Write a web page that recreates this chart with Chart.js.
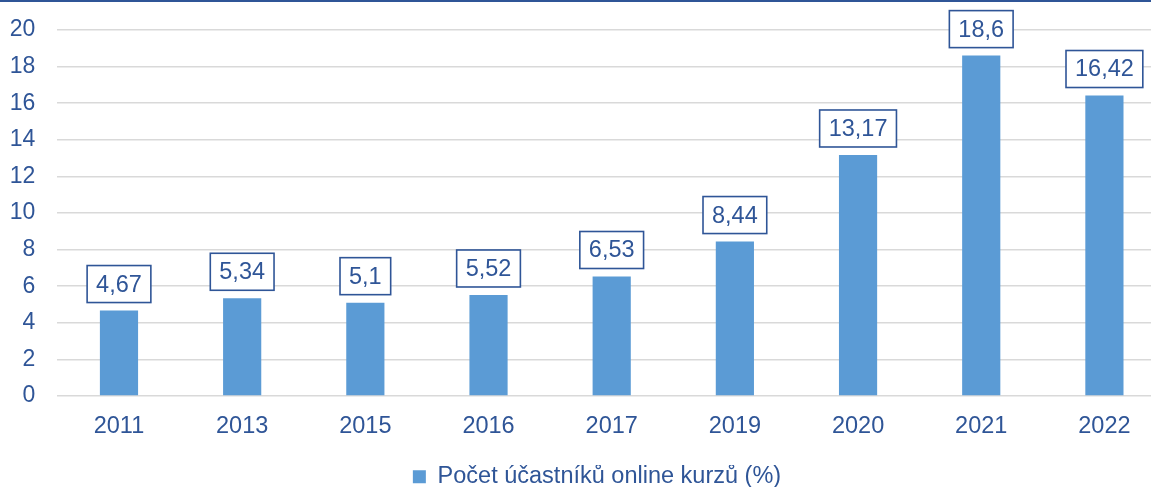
<!DOCTYPE html>
<html><head><meta charset="utf-8">
<script src="https://cdn.jsdelivr.net/npm/chart.js@4/dist/chart.umd.min.js"></script>
<style>
html,body{margin:0;padding:0;background:#fff;overflow:hidden;width:1151px;height:487px;}
#topline{position:absolute;left:0;top:0;width:1151px;height:1.5px;background:#2F5597;z-index:2;}
#wrap{position:absolute;left:0;top:0;width:1194px;height:487px;}
</style></head>
<body>
<div id="topline"></div>
<div id="wrap"><canvas id="c" width="1194" height="487"></canvas></div>
<script>
const categories = ['2011','2013','2015','2016','2017','2019','2020','2021','2022'];
const values = [4.67, 5.34, 5.1, 5.52, 6.53, 8.44, 13.17, 18.6, 16.42];
const seriesName = 'Počet účastníků online kurzů (%)';
const yTicks = [0,2,4,6,8,10,12,14,16,18,20];

const TXT = '#2F5597';
const FONT = '"Liberation Sans", Arial, sans-serif';
const FS = 23.5;

const labelPlugin = {
  id: 'boxLabels',
  afterLayout(chart) {
    if (chart.legend) { chart.legend.left += 9; chart.legend.right += 9; }
  },
  afterDatasetsDraw(chart) {
    const ctx = chart.ctx;
    const meta = chart.getDatasetMeta(0);
    ctx.save();
    ctx.font = FS + 'px ' + FONT;
    ctx.textAlign = 'center';
    ctx.textBaseline = 'middle';
    meta.data.forEach((bar, i) => {
      const txt = String(values[i]).replace('.', ',');
      const w = ctx.measureText(txt).width + 18;
      const h = 37;
      const bottom = bar.y - 8;
      const top = bottom - h;
      ctx.fillStyle = '#fff';
      ctx.fillRect(bar.x - w/2, top, w, h);
      ctx.strokeStyle = TXT;
      ctx.lineWidth = 1.6;
      ctx.strokeRect(bar.x - w/2, top, w, h);
      ctx.fillStyle = TXT;
      ctx.fillText(txt, bar.x, top + h/2 + 1);
    });
    ctx.restore();
  }
};

new Chart(document.getElementById('c'), {
  type: 'bar',
  data: {
    labels: categories,
    datasets: [{
      label: seriesName,
      data: values,
      backgroundColor: '#5B9BD5',
      borderWidth: 0,
      categoryPercentage: 1,
      barPercentage: 0.31
    }]
  },
  options: {
    responsive: false,
    animation: false,
    devicePixelRatio: 1,
    layout: { padding: { left: 10, right: 28, top: 30, bottom: -11.5 } },
    plugins: {
      legend: {
        position: 'bottom',
        labels: {
          color: TXT,
          font: { family: FONT, size: FS },
          boxWidth: 13, boxHeight: 13, padding: 0
        }
      },
      tooltip: { enabled: false }
    },
    scales: {
      x: {
        afterFit(scale) { scale.height = 69; },
        grid: { display: false, drawTicks: false },
        border: { display: false },
        ticks: { color: TXT, font: { family: FONT, size: FS }, padding: 16 }
      },
      y: {
        min: 0, max: 20,
        afterBuildTicks(scale) { scale.ticks = yTicks.map(v => ({ value: v })); },
        afterFit(scale) { scale.width = 47.4; scale.paddingTop = 0; scale.paddingBottom = 0; },
        grid: { color: '#D9D9D9', lineWidth: 1.5, drawTicks: false },
        border: { display: false },
        ticks: { color: TXT, font: { family: FONT, size: 23 }, padding: 22 }
      }
    }
  },
  plugins: [labelPlugin]
});
</script>
</body></html>
